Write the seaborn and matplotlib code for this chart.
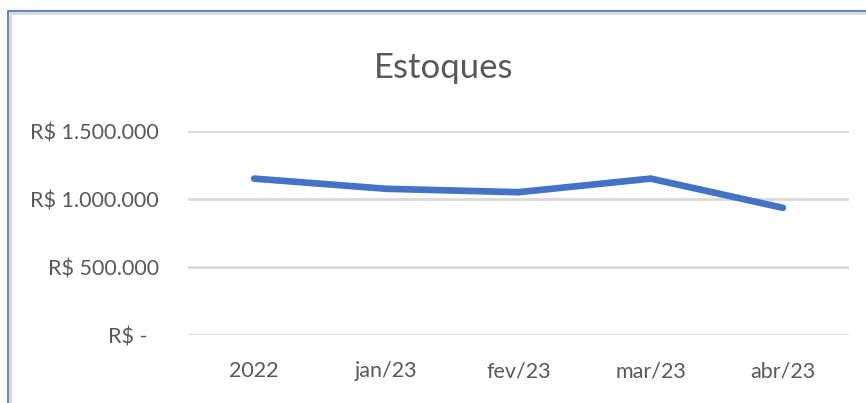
import pandas as pd
import matplotlib.pyplot as plt
import matplotlib.ticker as mticker
from matplotlib.patches import Rectangle
import seaborn as sns

# dados
meses = ['2022', 'jan/23', 'fev/23', 'mar/23', 'abr/23']
estoques = [1150000, 1075000, 1050000, 1150000, 935000]
ticks_y = [0, 500000, 1000000, 1500000]

AZUL = '#4472C4'
CINZA_TXT = '#595959'
CINZA_GRADE = '#D9D9D9'


def formata_reais(v, pos=None):
    if v == 0:
        return 'R$ -  '
    return 'R$ ' + f'{v:,.0f}'.replace(',', '.')


def main():
    sns.set_style('white')
    plt.rcParams['font.family'] = ['Lato', 'DejaVu Sans']

    df = pd.DataFrame({'mes': meses, 'valor': estoques})

    fig = plt.figure(figsize=(8.66, 4.03), dpi=100)
    ax = fig.add_axes([188 / 866, 1 - 335 / 403, (849 - 188) / 866, (335 - 131) / 403])

    sns.lineplot(data=df, x='mes', y='valor', color=AZUL, linewidth=4.8,
                 solid_capstyle='round', solid_joinstyle='miter', sort=False, ax=ax, zorder=3)

    ax.set_xlim(-0.5, len(meses) - 0.5)
    ax.set_ylim(0, 1500000)
    ax.set_yticks(ticks_y)
    ax.yaxis.set_major_formatter(mticker.FuncFormatter(formata_reais))
    ax.grid(axis='y', color=CINZA_GRADE, linewidth=2)
    ax.grid(axis='x', visible=False)
    for s in ax.spines.values():
        s.set_visible(False)
    ax.tick_params(axis='y', length=0, pad=21, labelsize=15.5, labelcolor=CINZA_TXT)
    ax.tick_params(axis='x', length=0, pad=19, labelsize=15.5, labelcolor=CINZA_TXT)
    ax.set_xlabel('')
    ax.set_ylabel('')

    fig.text(444 / 866, 1 - 68 / 403, 'Estoques', ha='center', va='center',
             fontsize=25, color=CINZA_TXT)

    # moldura do gráfico (azul + cinza claro por dentro)
    fig.patches.append(Rectangle((10 / 866, -0.1), 1.2, 1 - 13 / 403 + 0.1,
                                 transform=fig.transFigure, fill=False,
                                 edgecolor='#D9D9D9', linewidth=2))
    fig.patches.append(Rectangle((8 / 866, -0.1), 1.2, 1 - 11 / 403 + 0.1,
                                 transform=fig.transFigure, fill=False,
                                 edgecolor=AZUL, linewidth=1.2))

    fig.savefig('out.png', dpi=100)


if __name__ == '__main__':
    main()
